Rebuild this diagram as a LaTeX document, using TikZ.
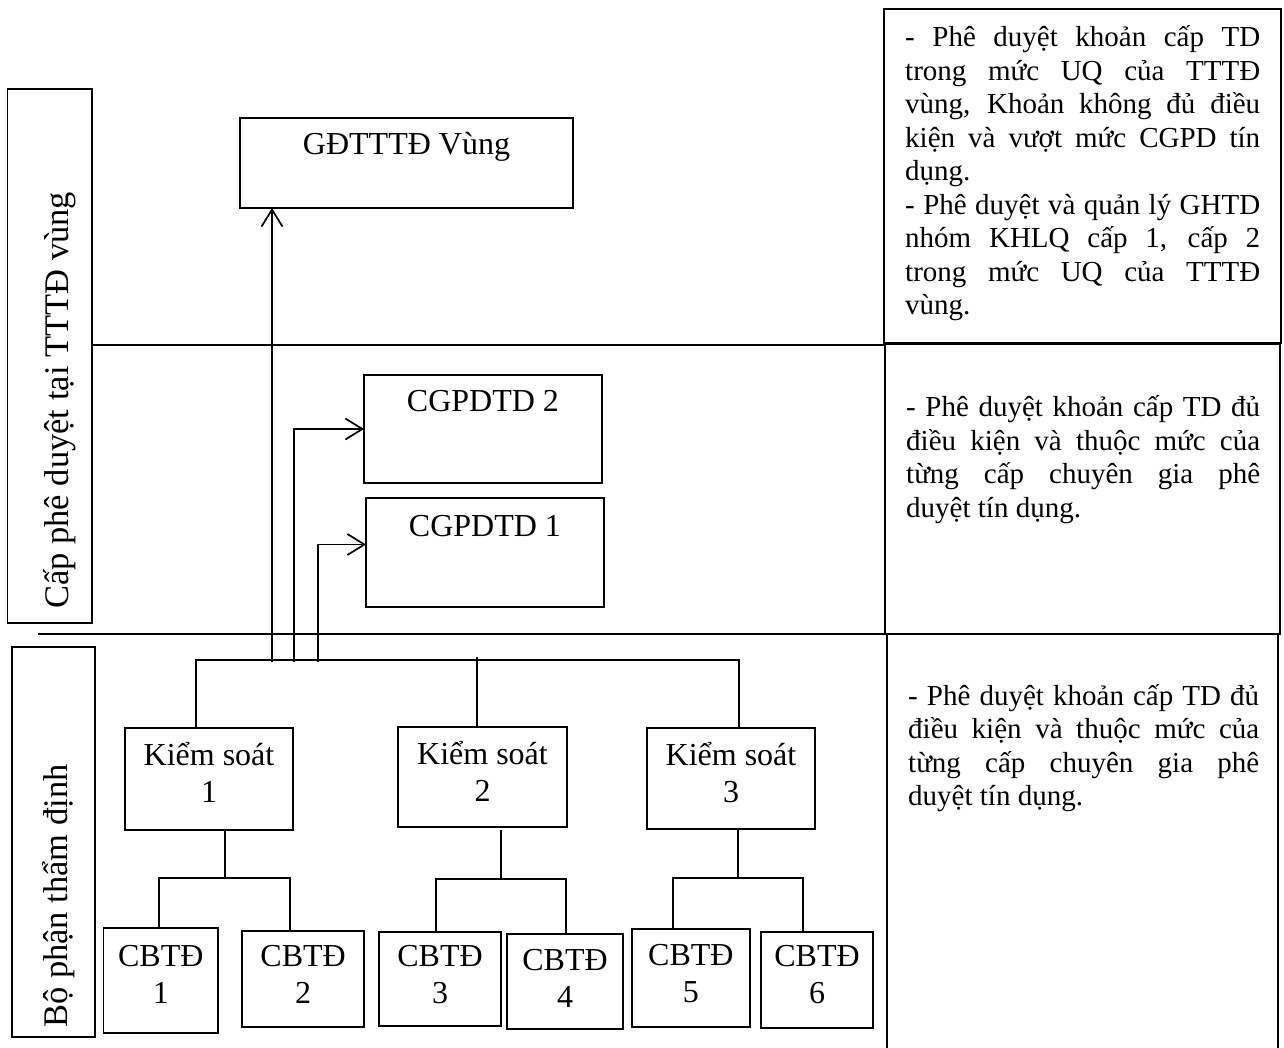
\documentclass[tikz,border=0pt]{standalone}
\usepackage{fontspec}
\setmainfont{Liberation Serif}
\usetikzlibrary{arrows.meta,calc}
\setlength\lineskiplimit{-100pt}
\setlength\parindent{0pt}
\tolerance=10000
\hbadness=10000
\hyphenpenalty=10000

\begin{document}
\begin{tikzpicture}[x=1pt,y=-1pt,
  frame/.style={draw, rectangle, inner sep=0pt, outer sep=0pt, anchor=north west, line width=1.8pt},
  boxtext/.style={anchor=north, inner sep=0pt, align=center,
    font=\fontsize{32}{37}\selectfont},
  note/.style={anchor=north west, inner sep=0pt, text width=#1, align=justify,
    font=\fontsize{29}{33.5}\selectfont},
  lanetext/.style={rotate=90, anchor=base west, inner sep=0pt,
    font=\fontsize{34.5}{40}\selectfont},
  link/.style={line width=1.8pt},
  up/.style={line width=1.7pt, -{Straight Barb[length=17pt,width=21pt]}},
]
\useasboundingbox (0,0) rectangle (1284,1047);

% ---- lane labels on the left
\node[frame, minimum width=84.5pt, minimum height=534pt] (lane1) at (7.5,89) {};
\node[lanetext] (lane1t) at (68,609) {Cấp phê duyệt tại TTTĐ vùng};
\node[frame, minimum width=83.3pt, minimum height=390pt] (lane2) at (11.7,647) {};
\node[lanetext] (lane2t) at (67,1028) {Bộ phận thẩm định};

% ---- description column on the right
\node[frame, minimum width=397pt, minimum height=334pt] (rtop) at (884,9) {};
\node[frame, minimum width=395pt, minimum height=290pt] (rmid) at (885,344) {};
\draw[link] (887,1050) -- (887,634) -- (1278,634) -- (1278,1050);

\node[note=355pt] (n1) at (905,16.5) {\rule{0pt}{30pt}- Phê duyệt khoản cấp TD\linebreak
trong mức UQ của TTTĐ\linebreak
vùng, Khoản không đủ điều\linebreak
kiện và vượt mức CGPD tín\linebreak
dụng.\\
- Phê duyệt và quản lý GHTD\linebreak
nhóm KHLQ cấp 1, cấp 2\linebreak
trong mức UQ của TTTĐ\linebreak
vùng.};
\node[note=354pt] (n2) at (906,386.5) {\rule{0pt}{30pt}- Phê duyệt khoản cấp TD đủ\linebreak
điều kiện và thuộc mức của\linebreak
từng cấp chuyên gia phê\linebreak
duyệt tín dụng.};
\node[note=351pt] (n3) at (908,675) {\rule{0pt}{30pt}- Phê duyệt khoản cấp TD đủ\linebreak
điều kiện và thuộc mức của\linebreak
từng cấp chuyên gia phê\linebreak
duyệt tín dụng.};

% ---- lane separators
\coordinate (sepA) at (92,345);
\draw[link] (sepA) -- (sepA -| rtop.west);
\coordinate (sepB) at (38,634);
\draw[link] (sepB) -- (sepB -| rmid.east);

% ---- approval levels
\node[frame, minimum width=333pt, minimum height=90pt] (gd) at (240,118) {};
\node[boxtext] (gdt) at ([yshift=-2.5pt]gd.north) {\rule{0pt}{34pt}GĐTTTĐ Vùng};
\node[frame, minimum width=238pt, minimum height=108pt] (cg2) at (364,375) {};
\node[boxtext] (cg2t) at ([yshift=-2pt]cg2.north) {\rule{0pt}{34pt}CGPDTD 2};
\node[frame, minimum width=238pt, minimum height=109pt] (cg1) at (366,498) {};
\node[boxtext] (cg1t) at ([yshift=-4pt]cg1.north) {\rule{0pt}{34pt}CGPDTD 1};

% ---- appraisal unit
\node[frame, minimum width=168pt, minimum height=102pt] (ks1) at (125,728) {};
\node[frame, minimum width=169pt, minimum height=100pt] (ks2) at (398,727) {};
\node[frame, minimum width=168pt, minimum height=101pt] (ks3) at (647,728) {};
\node[boxtext] (ks1t) at ([yshift=-3pt]ks1.north) {\rule{0pt}{34pt}Kiểm soát\\1};
\node[boxtext] (ks2t) at ([yshift=-3pt]ks2.north) {\rule{0pt}{34pt}Kiểm soát\\2};
\node[boxtext] (ks3t) at ([yshift=-3pt]ks3.north) {\rule{0pt}{34pt}Kiểm soát\\3};

\node[frame, minimum width=114.5pt, minimum height=105pt] (cb1) at (103.5,928) {};
\node[frame, minimum width=122.3pt, minimum height=96pt] (cb2) at (242,931) {};
\node[frame, minimum width=122pt, minimum height=94pt] (cb3) at (379,931.7) {};
\node[frame, minimum width=116pt, minimum height=95pt] (cb4) at (507,934) {};
\node[frame, minimum width=118.3pt, minimum height=98pt] (cb5) at (631.7,929.3) {};
\node[frame, minimum width=112.6pt, minimum height=96.6pt] (cb6) at (760.7,931.7) {};
\node[boxtext] (cb1t) at ([yshift=-4pt]cb1.north) {\rule{0pt}{34pt}CBTĐ\\1};
\node[boxtext] (cb2t) at ([yshift=-1pt]cb2.north) {\rule{0pt}{34pt}CBTĐ\\2};
\node[boxtext] (cb3t) at ([yshift=-0.5pt]cb3.north) {\rule{0pt}{34pt}CBTĐ\\3};
\node[boxtext] (cb4t) at ([yshift=-2pt]cb4.north) {\rule{0pt}{34pt}CBTĐ\\4};
\node[boxtext] (cb5t) at ([yshift=-1.5pt]cb5.north) {\rule{0pt}{34pt}CBTĐ\\5};
\node[boxtext] (cb6t) at ([yshift=-0.5pt]cb6.north) {\rule{0pt}{34pt}CBTĐ\\6};

% ---- tree connectors
\coordinate (busL) at (196,660);
\coordinate (busR) at (739,660);
\draw[link] (ks1.north -| busL) -- (busL) -- (busR) -- (ks3.north -| busR);
\coordinate (s2) at (476.7,657);
\draw[link] (s2) -- (s2 |- ks2.north);

\coordinate (k1) at (225,878);
\coordinate (c1l) at (159,878);
\coordinate (c1r) at (290,878);
\draw[link] (ks1.south -| k1) -- (k1);
\draw[link] (cb1.north -| c1l) -- (c1l) -- (c1r) -- (cb2.north -| c1r);

\coordinate (k2) at (501,879);
\coordinate (c2l) at (435.7,879);
\coordinate (c2r) at (566,879);
\draw[link] ([yshift=-3pt]ks2.south -| k2) -- (k2);
\draw[link] (cb3.north -| c2l) -- (c2l) -- (c2r) -- (cb4.north -| c2r);

\coordinate (k3) at (738.3,878.3);
\coordinate (c3l) at (672.7,878.3);
\coordinate (c3r) at (803.3,878.3);
\draw[link] (ks3.south -| k3) -- (k3);
\draw[link] (cb5.north -| c3l) -- (c3l) -- (c3r) -- (cb6.north -| c3r);

% ---- escalation arrows
\coordinate (f0) at (272,662);
\coordinate (f2) at (294.3,662);
\coordinate (f1) at (318.3,662);
\draw[up] (f0) -- (f0 |- gd.south);
\draw[up] (f2) |- (cg2.west);
\draw[up] (f1) |- ([yshift=8pt]cg1.west);
\end{tikzpicture}
\end{document}
